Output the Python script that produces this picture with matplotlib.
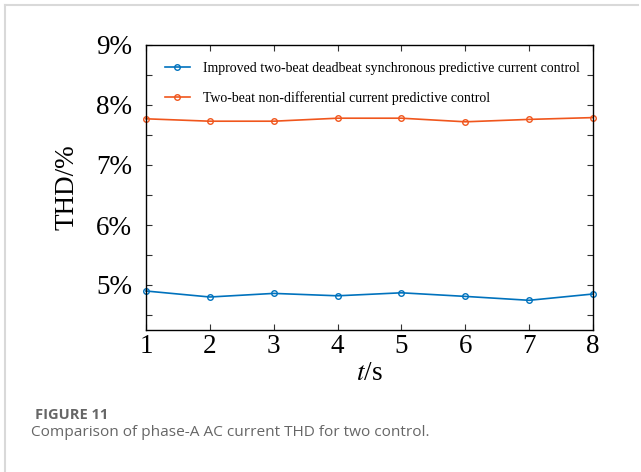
import matplotlib
matplotlib.use("Agg")
import matplotlib.pyplot as plt
from matplotlib.lines import Line2D
from matplotlib.ticker import FixedLocator, FuncFormatter

# THD of phase-A current, sampled once per second
t_s = [1, 2, 3, 4, 5, 6, 7, 8]
thd_improved = [4.90, 4.80, 4.86, 4.82, 4.87, 4.81, 4.745, 4.85]
thd_nondiff = [7.77, 7.73, 7.73, 7.78, 7.78, 7.72, 7.76, 7.79]
y_labels = [5, 6, 7, 8, 9]

label_improved = "Improved two-beat deadbeat synchronous predictive current control"
label_nondiff = "Two-beat non-differential current predictive control"

BLUE = "#0072BD"
ORANGE = "#F0561D"
SERIF = "Liberation Serif"

fig = plt.figure(figsize=(6.41, 4.72), dpi=100)
ax = fig.add_axes([146 / 641, 1 - 330 / 472, 447 / 641, 285 / 472])

ax.plot(t_s, thd_improved, color=BLUE, lw=1.2, marker="o", ms=4,
        mfc="none", mew=1.0, label=label_improved, clip_on=False)
ax.plot(t_s, thd_nondiff, color=ORANGE, lw=1.2, marker="o", ms=4,
        mfc="none", mew=1.0, label=label_nondiff, clip_on=False)

ax.set_xlim(1, 8)
ax.set_ylim(4.25, 9)
ax.set_xticks(t_s)
ax.yaxis.set_major_locator(FixedLocator([4.5, 5, 5.5, 6, 6.5, 7, 7.5, 8, 8.5, 9]))
ax.yaxis.set_major_formatter(FuncFormatter(
    lambda v, p: f"{int(v)}%" if v in y_labels else ""))

ax.tick_params(direction="in", length=4, width=0.8, top=True, right=True,
               labelsize=19.5, color="#333333")
ax.tick_params(axis="y", pad=10)
ax.tick_params(axis="x", pad=3)
for lab in ax.get_xticklabels() + ax.get_yticklabels():
    lab.set_fontfamily(SERIF)

for sp in ax.spines.values():
    sp.set_linewidth(1.0)

ax.set_ylabel("THD/%", fontsize=19.5, family=SERIF, labelpad=12)
ax.set_xlabel("$t$/s", fontsize=19.5, family=SERIF, labelpad=1)
ax.xaxis.label.set_math_fontfamily("stix")

ax.legend(loc="upper left", frameon=False, prop={"family": SERIF, "size": 10},
          handlelength=1.8, handletextpad=1.0, labelspacing=1.15,
          borderaxespad=0.0, bbox_to_anchor=(0.029, 0.96))

# page frame and caption
fig.add_artist(Line2D([5 / 641, 5 / 641], [0, 1 - 5 / 472], transform=fig.transFigure,
                      color="#d9d9d9", lw=1.5))
fig.add_artist(Line2D([5 / 641, 638 / 641], [1 - 5 / 472, 1 - 5 / 472],
                      transform=fig.transFigure, color="#d9d9d9", lw=1.5))
fig.text(35 / 641, 1 - 415 / 472, "FIGURE 11", family="Open Sans", weight="bold",
         fontsize=10.5, color="#666666", va="center")
fig.text(31 / 641, 1 - 433 / 472,
         "Comparison of phase-A AC current THD for two control.",
         family="Open Sans", fontsize=11.1, color="#666666", va="center")

fig.savefig("out.png", dpi=100)
